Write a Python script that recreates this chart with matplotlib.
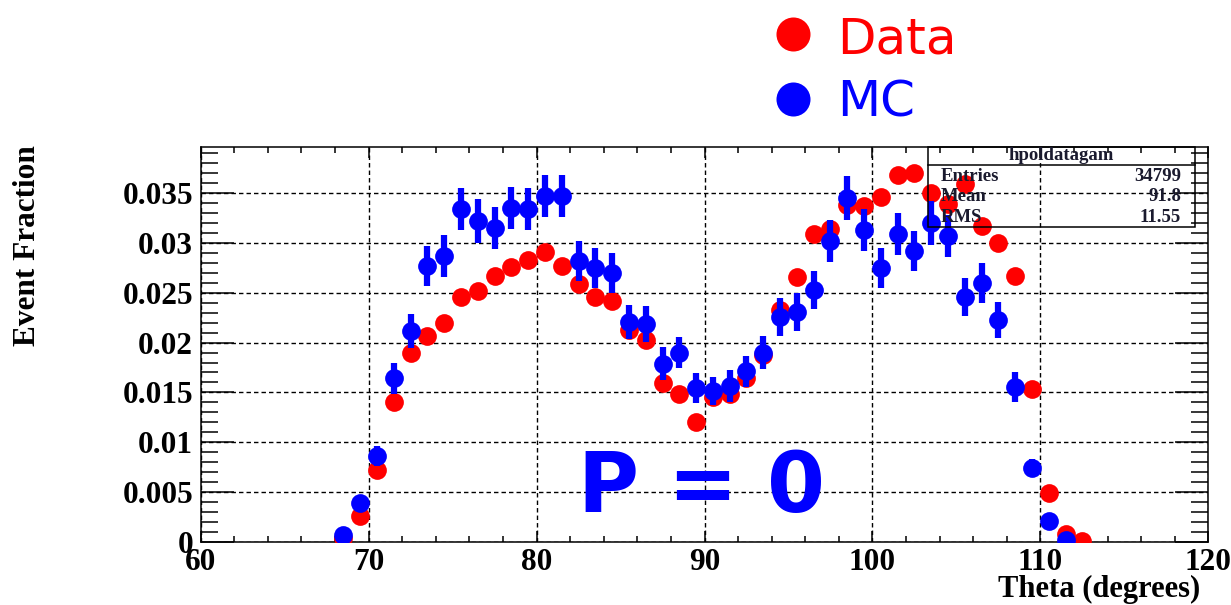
import matplotlib
matplotlib.use("Agg")
import matplotlib.pyplot as plt
from matplotlib.patches import Rectangle
from matplotlib.lines import Line2D
from matplotlib.ticker import MultipleLocator

# ---------------- data ----------------
theta_data = [68.5, 69.5, 70.5, 71.5, 72.5, 73.5, 74.5, 75.5, 76.5, 77.5,
              78.5, 79.5, 80.5, 81.5, 82.5, 83.5, 84.5, 85.5, 86.5, 87.5,
              88.5, 89.5, 90.5, 91.5, 92.5, 93.5, 94.5, 95.5, 96.5, 97.5,
              98.5, 99.5, 100.5, 101.5, 102.5, 103.5, 104.5, 105.5, 106.5, 107.5,
              108.5, 109.5, 110.5, 111.5, 112.5]
data_frac = [0.0004, 0.0026, 0.0072, 0.0140, 0.0190, 0.0207, 0.0220, 0.0246, 0.0252, 0.0267,
             0.0276, 0.0283, 0.0291, 0.0277, 0.0259, 0.0246, 0.0242, 0.0213, 0.0203, 0.0159,
             0.0148, 0.0120, 0.0145, 0.0148, 0.0164, 0.0188, 0.0233, 0.0266, 0.0309, 0.0314,
             0.0338, 0.0337, 0.0346, 0.0368, 0.0370, 0.0350, 0.0339, 0.0359, 0.0317, 0.0300,
             0.0267, 0.0153, 0.0049, 0.0008, 0.0001]

theta_mc = [68.5, 69.5, 70.5, 71.5, 72.5, 73.5, 74.5, 75.5, 76.5, 77.5,
            78.5, 79.5, 80.5, 81.5, 82.5, 83.5, 84.5, 85.5, 86.5, 87.5,
            88.5, 89.5, 90.5, 91.5, 92.5, 93.5, 94.5, 95.5, 96.5, 97.5,
            98.5, 99.5, 100.5, 101.5, 102.5, 103.5, 104.5, 105.5, 106.5, 107.5,
            108.5, 109.5, 110.5, 111.5]
mc_frac = [0.0007, 0.0039, 0.0086, 0.0164, 0.0212, 0.0277, 0.0287, 0.0334, 0.0322, 0.0315,
           0.0335, 0.0334, 0.0347, 0.0347, 0.0282, 0.0275, 0.0270, 0.0221, 0.0219, 0.0179,
           0.0190, 0.0154, 0.0151, 0.0156, 0.0171, 0.0190, 0.0226, 0.0231, 0.0253, 0.0302,
           0.0345, 0.0313, 0.0275, 0.0309, 0.0292, 0.0320, 0.0307, 0.0246, 0.0260, 0.0223,
           0.0155, 0.0074, 0.0021, 0.0002]
mc_err = [0.0004, 0.0007, 0.0010, 0.0016, 0.0017, 0.0020, 0.0021, 0.0021, 0.0022, 0.0021,
          0.0021, 0.0021, 0.0021, 0.0021, 0.0020, 0.0020, 0.0020, 0.0017, 0.0018, 0.0017,
          0.0016, 0.0015, 0.0014, 0.0016, 0.0016, 0.0017, 0.0019, 0.0019, 0.0019, 0.0021,
          0.0022, 0.0021, 0.0020, 0.0021, 0.0020, 0.0022, 0.0021, 0.0019, 0.0020, 0.0018,
          0.0015, 0.0009, 0.0005, 0.0002]

xticks = [60, 70, 80, 90, 100, 110, 120]
yticks = [0, 0.005, 0.01, 0.015, 0.02, 0.025, 0.03, 0.035]
ytick_labels = ["0", "0.005", "0.01", "0.015", "0.02", "0.025", "0.03", "0.035"]

stat_title = "hpoldatagam"
stat_names = ["Entries", "Mean", "RMS"]
stat_values = ["34799", "91.8", "11.55"]

# ---------------- figure ----------------
W, H = 1231, 605
fig = plt.figure(figsize=(W / 100, H / 100), dpi=100)
fig.patch.set_facecolor("white")

def fx(px):
    return px / W

def fy(py):
    return 1 - py / H

ax_l, ax_r, ax_t, ax_b = 200.7, 1208.3, 146.5, 541.7
ax = fig.add_axes([fx(ax_l), fy(ax_b), fx(ax_r) - fx(ax_l), fy(ax_t) - fy(ax_b)])

serif = "Liberation Serif"

ax.plot(theta_data, data_frac, "o", color="red", ms=13.5, mew=0, zorder=3)
ax.errorbar(theta_mc, mc_frac, yerr=mc_err, fmt="o", color="blue", ms=13.5, mew=0,
            elinewidth=4.5, capsize=0, zorder=4)

ax.set_xlim(60, 120)
ax.set_ylim(0, 0.0397)

ax.set_xticks(xticks)
ax.set_xticklabels([str(t) for t in xticks])
ax.set_yticks(yticks)
ax.set_yticklabels(ytick_labels)
ax.xaxis.set_minor_locator(MultipleLocator(2))
ax.yaxis.set_minor_locator(MultipleLocator(0.001))

ax.grid(True, which="major", color="black", linestyle=(0, (3.2, 2.2)), linewidth=1.0, zorder=1)
ax.set_axisbelow(True)

ax.tick_params(axis="both", which="both", direction="in", top=True, right=True, width=1.1,
               colors="black")
ax.tick_params(axis="x", which="major", length=8, pad=4.5)
ax.tick_params(axis="x", which="minor", length=4.3)
ax.tick_params(axis="y", which="major", length=24, pad=5.5)
ax.tick_params(axis="y", which="minor", length=12)
for lbl in ax.get_xticklabels() + ax.get_yticklabels():
    lbl.set_fontfamily(serif)
    lbl.set_fontweight("bold")
    lbl.set_fontsize(22.5)
for sp in ax.spines.values():
    sp.set_linewidth(1.1)

# axis titles
fig.text(fx(28), fy(145.5), "Event Fraction", rotation=90, ha="center", va="top",
         fontsize=22.5, fontweight="bold", family=serif)
fig.text(fx(1200), fy(597), "Theta (degrees)", ha="right", va="baseline",
         fontsize=22, fontweight="bold", family=serif)

# stat box
bx0, bx1, by0, by1, bsep = 928, 1195, 146.5, 227, 165
fig.add_artist(Rectangle((fx(bx0), fy(by1)), fx(bx1) - fx(bx0), fy(by0) - fy(by1),
                         transform=fig.transFigure, fill=False, ec="black", lw=1.1, zorder=5))
fig.add_artist(Line2D([fx(bx0), fx(bx1)], [fy(bsep), fy(bsep)], transform=fig.transFigure,
                      color="black", lw=1.1, zorder=5))
fig.text(fx((bx0 + bx1) / 2), fy(155.5), stat_title, ha="center", va="center",
         fontsize=13.5, fontweight="bold", family=serif, color="#1a1a2e", zorder=6)
for i, (n, v) in enumerate(zip(stat_names, stat_values)):
    yy = [176.5, 196.7, 218][i]
    fig.text(fx(941), fy(yy), n, ha="left", va="center", fontsize=13.5, fontweight="bold",
             family=serif, color="#1a1a2e", zorder=6)
    fig.text(fx(1181), fy(yy), v, ha="right", va="center", fontsize=13.5, fontweight="bold",
             family=serif, color="#1a1a2e", zorder=6)

# big P = 0 annotation
fig.text(fx(701), fy(512), "P = 0", ha="center", va="baseline", fontsize=60,
         fontweight="bold", color="blue", family="DejaVu Sans")

# legend at top
fig.add_artist(Line2D([fx(793)], [fy(34)], marker="o", ms=24.5, mew=0, color="red",
                      linestyle="none", transform=fig.transFigure))
fig.add_artist(Line2D([fx(793)], [fy(99)], marker="o", ms=24.5, mew=0, color="blue",
                      linestyle="none", transform=fig.transFigure))
fig.text(fx(837), fy(53), "Data", ha="left", va="baseline", fontsize=36, color="red",
         family="DejaVu Sans")
fig.text(fx(837), fy(117), "MC", ha="left", va="baseline", fontsize=36, color="blue",
         family="DejaVu Sans")

fig.savefig("out.png", dpi=100, facecolor="white")
